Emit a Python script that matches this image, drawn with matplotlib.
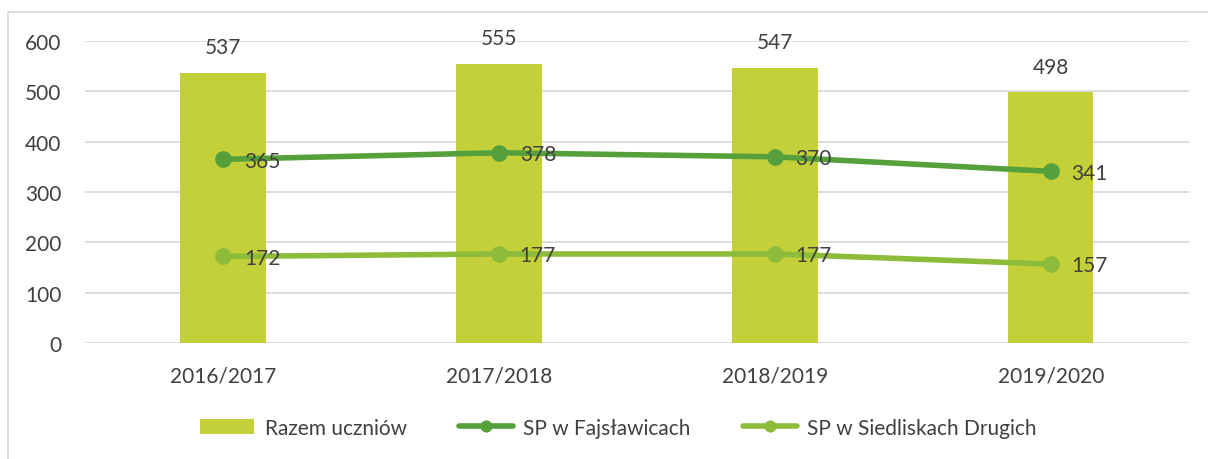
import matplotlib
matplotlib.use("Agg")
import matplotlib.pyplot as plt
import numpy as np

years = ["2016/2017", "2017/2018", "2018/2019", "2019/2020"]
razem = [537, 555, 547, 498]
fajslawice = [365, 378, 370, 341]
siedliska = [172, 177, 177, 157]

bar_color = "#C3D03A"
dark_green = "#55A03A"
light_green = "#8DBB3A"
text_color = "#404040"

plt.rcParams['font.family'] = ['Lato', 'DejaVu Sans']
fs = 15

fig = plt.figure(figsize=(12.08, 4.6), dpi=100)
ax = fig.add_axes([0.0704, 0.252, 0.9136, 0.6567])

x = np.arange(len(years))
bars = ax.bar(x, razem, width=0.31, color=bar_color, label="Razem uczniów", zorder=2)
l1, = ax.plot(x, fajslawice, color=dark_green, lw=4, marker="o", ms=11,
              label="SP w Fajsławicach", zorder=3, solid_capstyle="round")
l2, = ax.plot(x, siedliska, color=light_green, lw=4, marker="o", ms=11,
              label="SP w Siedliskach Drugich", zorder=3, solid_capstyle="round")

# value labels
for xi, v in zip(x, razem):
    ax.annotate(str(v), (xi, v), xytext=(0, 11), textcoords="offset points",
                ha="center", va="bottom", fontsize=fs, color=text_color)
for series in (fajslawice, siedliska):
    for xi, v in zip(x, series):
        ax.annotate(str(v), (xi, v), xytext=(15, -1), textcoords="offset points",
                    ha="left", va="center", fontsize=fs, color=text_color, zorder=4)

ax.set_xlim(-0.5, len(years) - 0.5)
ax.set_ylim(0, 600)
ax.set_yticks(range(0, 601, 100))
ax.set_xticks(x)
ax.set_xticklabels(years)
ax.yaxis.grid(True, color="#D9D9D9", lw=1.3, zorder=0)
ax.set_axisbelow(True)
for s in ax.spines.values():
    s.set_visible(False)
ax.tick_params(length=0, labelsize=fs, colors=text_color)
ax.tick_params(axis="x", pad=16)
ax.tick_params(axis="y", pad=17)

leg = fig.legend([bars, l1, l2], [bars.get_label(), l1.get_label(), l2.get_label()],
                 loc="center", bbox_to_anchor=(0.512, 0.068), ncol=3, frameon=False,
                 fontsize=fs, handlelength=2.6, columnspacing=2.5, handletextpad=0.5,
                 markerscale=0.7)
for t in leg.get_texts():
    t.set_color(text_color)

# chart border
fig.patches.append(plt.Rectangle((8 / 1208, -0.1), 1.2, 1 - 13 / 460 + 0.1,
                                 transform=fig.transFigure, fill=False,
                                 edgecolor="#D9D9D9", lw=1.3))

fig.savefig("out.png", dpi=100)
